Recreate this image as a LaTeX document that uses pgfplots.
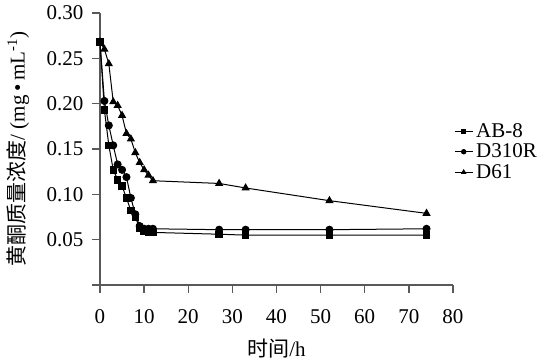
\documentclass[border=0pt]{standalone}
\usepackage{pgfplots}
\pgfplotsset{compat=1.18}
\usepackage{fontspec}
\setmainfont{Liberation Serif}
\newfontfamily\cjk{Noto Sans CJK SC}
\begin{document}
\begin{tikzpicture}
\path[use as bounding box] (-100pt,-78pt) rectangle (442pt,285pt);
\begin{axis}[
  at={(0,0)}, anchor=south west,
  scale only axis, width=353pt, height=272pt,
  xmin=0, xmax=80, ymin=0, ymax=0.30,
  xtick={0,10,20,30,40,50,60,70,80},
  ytick={0,0.05,0.10,0.15,0.20,0.25,0.30},
  yticklabels={{},0.05,0.10,0.15,0.20,0.25,0.30},
  axis x line*=bottom, axis y line*=left,
  tick align=outside, major tick length=8pt,
  axis line style={black!65, line width=1.3pt},
  tick style={black!65, line width=1.3pt},
  font=\fontsize{21}{25}\selectfont,
  /pgf/number format/assume math mode=true,
  yticklabel style={xshift=-5pt},
  xticklabel style={yshift=-13pt},
  xlabel={{\cjk 时间}/h},
  ylabel={{\cjk 黄酮质量浓度}/ (mg\,•\,mL\textsuperscript{-1})},
  xlabel style={at={(axis description cs:0.5,0)}, anchor=center, yshift=-64pt},
  ylabel style={at={(axis description cs:0,0.5)}, anchor=center, yshift=82pt},
  every axis plot/.append style={black, line width=1pt},
  legend style={draw=none, fill=none, at={(rel axis cs:1,0.49)}, anchor=west, xshift=1pt,
    font=\fontsize{21}{21}\selectfont, row sep=5pt, inner xsep=0pt, inner ysep=0pt,
    nodes={inner xsep=3pt, inner ysep=0pt}},
  legend cell align=left,
  legend image code/.code={\draw[#1, line width=1pt, mark size=2.2pt] plot coordinates {(0pt,0pt) (9pt,0pt) (18pt,0pt)};},
  legend image post style={mark repeat=2, mark phase=2},
  clip=false,
]
\addplot[mark=square*, mark size=3.2pt] coordinates {
(0,0.268)(1,0.193)(2,0.154)(3,0.127)(4,0.116)(5,0.109)(6,0.096)(7,0.082)(8,0.075)(9,0.063)(10,0.059)(11,0.058)(12,0.058)(27,0.056)(33,0.055)(52,0.055)(74,0.055)};
\addplot[mark=*, mark size=3.5pt] coordinates {
(0,0.268)(1,0.203)(2,0.176)(3,0.154)(4,0.133)(5,0.127)(6,0.119)(7,0.096)(8,0.078)(9,0.065)(10,0.062)(11,0.062)(12,0.062)(27,0.061)(33,0.061)(52,0.061)(74,0.062)};
\addplot[mark=triangle*, mark size=3.8pt] coordinates {
(0,0.268)(1,0.260)(2,0.244)(3,0.202)(4,0.198)(5,0.187)(6,0.167)(7,0.161)(8,0.146)(9,0.135)(10,0.127)(11,0.121)(12,0.115)(27,0.112)(33,0.107)(52,0.093)(74,0.079)};
\legend{AB-8,D310R,D61}
\end{axis}
\end{tikzpicture}
\end{document}
